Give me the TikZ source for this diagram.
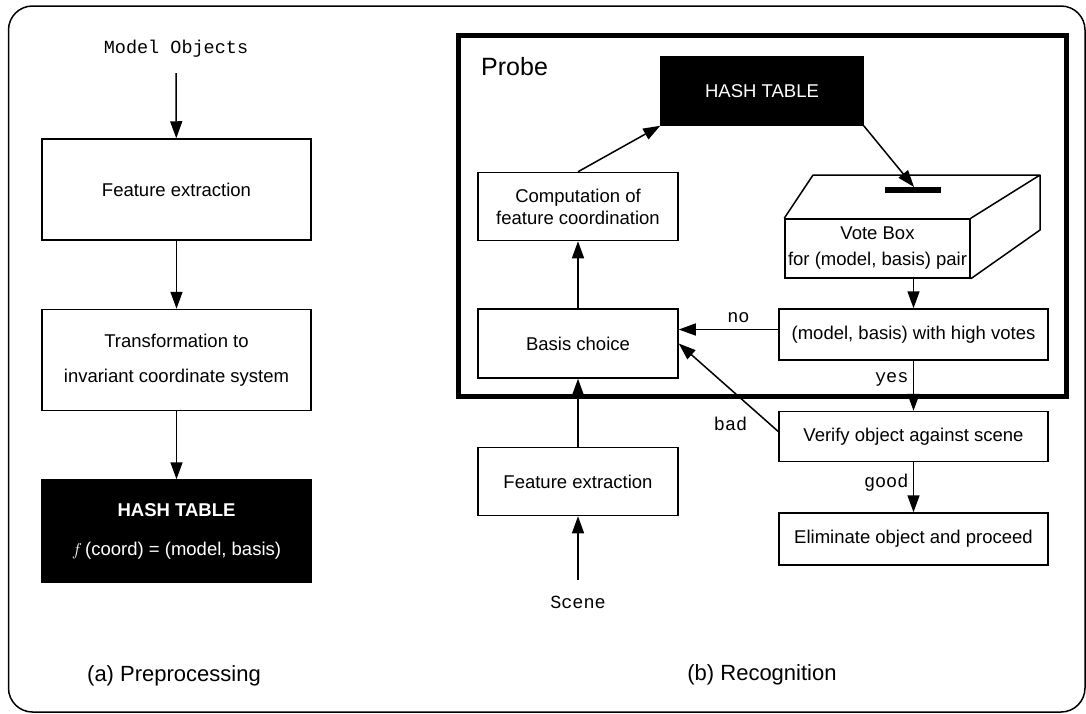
\documentclass[tikz,border=0pt]{standalone}
\usepackage{fontspec}
\setmainfont{Liberation Sans}
\setmonofont{Liberation Mono}
\usetikzlibrary{positioning,calc,arrows.meta}

\begin{document}
\begin{tikzpicture}[x=1pt,y=-1pt,
    box/.style={draw,line width=1.5pt,align=center,inner sep=2pt,font=\fontsize{18.5}{22}\selectfont},
    blackbox/.style={box,fill=black,text=white},
    lbl/.style={font=\fontsize{18.5}{22}\selectfont\ttfamily},
    capt/.style={font=\fontsize{22}{26}\selectfont},
    arr/.style={line width=1.5pt,-{Triangle[length=17pt,width=12pt]}},
]
\useasboundingbox (0,0) rectangle (1086,713);
\draw[line width=1.5pt,rounded corners=24pt] (8.5,6) rectangle (1085,712);

% (a) preprocessing
\node[lbl] (mo) at (176,49) {Model Objects};
\node[box,minimum width=269pt,minimum height=101pt] (fe) at (176.5,189.5) {Feature extraction};
\node[box,minimum width=269pt,minimum height=101pt] (tr) [below=68pt of fe]
  {Transformation to\\[13pt]invariant coordinate system};
\node[blackbox,minimum width=270pt,minimum height=102pt] (ht) [below=68pt of tr]
  {\textbf{HASH TABLE}\\[17pt]$f$\,(coord) = (model, basis)};
\node[capt] (pa) at (174,676) {(a) Preprocessing};
\draw[arr] ([yshift=-12pt]mo.south) -- (fe);
\draw[arr] (fe) -- (tr);
\draw[arr] (tr) -- (ht);

% (b) recognition
\node[draw,line width=5pt,minimum width=607.5pt,minimum height=361pt] (pr) at (762.25,215.5) {};
\node[font=\fontsize{25}{30}\selectfont,anchor=west,inner sep=0pt] (prl) at (481,67) {Probe};
\node[blackbox,minimum width=202pt,minimum height=68pt] (hb) at (762,91) {HASH TABLE};
\node[box,minimum width=200pt,minimum height=69pt] (bc) at (578,343.5) {Basis choice};
\node[box,minimum width=200pt,minimum height=68pt] (cc) [above=67pt of bc]
  {Computation of\\feature coordination};
\node[box,minimum width=200pt,minimum height=68pt] (fx) [below=68pt of bc] {Feature extraction};
\node[lbl] (sc) at (578,602) {Scene};

% vote box
\node[box,minimum width=185pt,minimum height=59pt,inner sep=0pt] (vb) at (877.5,248.5)
  {Vote Box\\[4pt]for (model, basis) pair};
\draw[line width=1.5pt,line join=round] (vb.north west) -- (813,175) -- (1040,175) -- (vb.north east)
  (1040,175) -- (1040,230) -- (vb.south east);
\draw[line width=6pt] (885,190) -- (941,190);
\coordinate (slot) at (914,187);

\node[box,minimum width=269pt,minimum height=51pt] (hv) at (913.5,334.5) {(model, basis) with high votes};
\node[box,minimum width=269pt,minimum height=50pt] (vf) [below=50pt of hv] {Verify object against scene};
\node[box,minimum width=269pt,minimum height=52pt] (el) [below=50pt of vf] {Eliminate object and proceed};

\draw[arr] (cc.north) -- (hb.south west);
\draw[arr] (hb.south east) -- (slot);
\draw[arr] (hv.north |- vb.south) -- (hv.north);
\draw[arr] ([yshift=5pt]hv.west) -- ([yshift=5pt]hv.west -| bc.east) node[lbl,pos=0.4,above=3pt] {no};
\draw[arr] (hv) -- (vf) node[lbl,pos=0.38,left=1pt] {yes};
\draw[arr] ([yshift=5pt]vf.west) -- (bc.east) node[lbl,pos=0.15,left=12pt,yshift=-6pt] {bad};
\draw[arr] (vf) -- (el) node[lbl,pos=0.4,left=1pt] {good};
\draw[arr] (bc) -- (cc);
\draw[arr] (fx) -- (bc);
\draw[arr] ([yshift=12pt]sc.north) -- (fx);
\node[capt] (pb) at (762,675) {(b) Recognition};
\end{tikzpicture}
\end{document}
